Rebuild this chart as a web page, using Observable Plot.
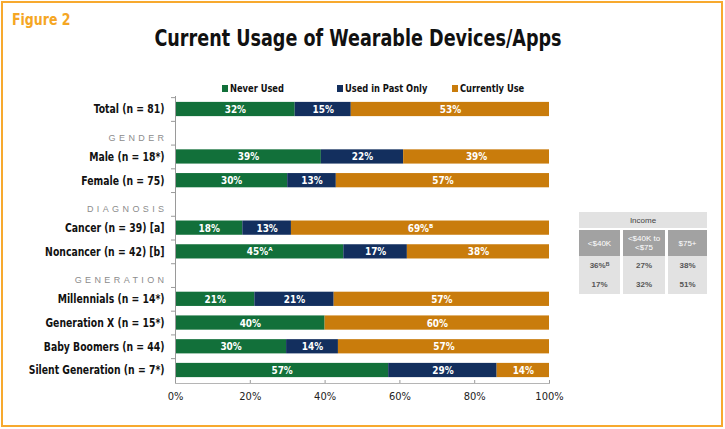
<!DOCTYPE html>
<html>
<head>
<meta charset="utf-8">
<script src="https://cdn.jsdelivr.net/npm/d3@7"></script>
<script src="https://cdn.jsdelivr.net/npm/@observablehq/plot@0.6"></script>
<style>
  html, body { margin: 0; padding: 0; background: #fff; }
  #root { position: relative; width: 725px; height: 429px; overflow: hidden; font-family: 'DejaVu Sans Condensed', 'Liberation Sans', sans-serif; }
  .abs { position: absolute; white-space: nowrap; }
  #chart { position: absolute; left: 0; top: 0; }
  g[fill="#8c8c8c"] text { letter-spacing: 3.4px; }
  .cell { position: absolute; display: flex; align-items: center; justify-content: center; text-align: center; font-family: 'Liberation Sans', sans-serif; font-size: 8px; line-height: 9px; }
</style>
</head>
<body>
<div id="root"></div>
<script>
// ---- data ----
const categories = [
  "Total (n = 81)",
  "Male (n = 18*)",
  "Female (n = 75)",
  "Cancer (n = 39) [a]",
  "Noncancer (n = 42) [b]",
  "Millennials (n = 14*)",
  "Generation X (n = 15*)",
  "Baby Boomers (n = 44)",
  "Silent Generation (n = 7*)"
];
const headers = ["GENDER", "DIAGNOSIS", "GENERATION"];
const rowOrder = [
  "Total (n = 81)", "GENDER", "Male (n = 18*)", "Female (n = 75)",
  "DIAGNOSIS", "Cancer (n = 39) [a]", "Noncancer (n = 42) [b]",
  "GENERATION", "Millennials (n = 14*)", "Generation X (n = 15*)",
  "Baby Boomers (n = 44)", "Silent Generation (n = 7*)"
];
const seriesNames = ["Never Used", "Used in Past Only", "Currently Use"];
const neverUsed    = [32, 39, 30, 18, 45, 21, 40, 30, 57];
const pastOnly     = [15, 22, 13, 13, 17, 21,  0, 14, 29];
const currentlyUse = [53, 39, 57, 69, 38, 57, 60, 57, 14];
const neverNotes   = ["", "", "", "", "ᴬ", "", "", "", ""];
const pastNotes    = ["", "", "", "", "", "", "", "", ""];
const currentNotes = ["", "", "", "ᴮ", "", "", "", "", ""];
const xTicks = [0, 0.2, 0.4, 0.6, 0.8, 1];

const incomeColumns = ["<$40K", "<$40K to\n<$75", "$75+"];
const incomeRow1 = ["36%ᴮ", "27%", "38%"];
const incomeRow2 = ["17%", "32%", "51%"];

const colors = ["#12703a", "#132f5e", "#c97c0c"];

// ---- build table ----
const seriesValues = [neverUsed, pastOnly, currentlyUse];
const seriesNotes = [neverNotes, pastNotes, currentNotes];
const data = [];
categories.forEach((c, i) => {
  seriesNames.forEach((s, j) => {
    data.push({category: c, series: s, value: seriesValues[j][i], note: seriesNotes[j][i]});
  });
});

const root = document.getElementById("root");
const FONT = "'DejaVu Sans Condensed', 'Liberation Sans', sans-serif";

function addText(txt, x, y, opts = {}) {
  const d = document.createElement("div");
  d.className = "abs";
  d.textContent = txt;
  const fs = opts.fontSize || 12;
  const sx = opts.scaleX || 1;
  d.style.fontSize = fs + "px";
  d.style.lineHeight = fs + "px";
  d.style.top = (y - fs / 2) + "px";
  d.style.fontWeight = opts.fontWeight || "bold";
  d.style.color = opts.color || "#111";
  d.style.left = x + "px";
  if (opts.center) { d.style.transformOrigin = "0 50%"; d.style.transform = `scaleX(${sx}) translateX(-50%)`; }
  else { d.style.transformOrigin = "0 50%"; d.style.transform = `scaleX(${sx})`; }
  root.appendChild(d);
  return d;
}

// border
const border = document.createElement("div");
border.className = "abs";
Object.assign(border.style, {left: "1px", top: "1px", width: "722px", height: "426px", boxSizing: "border-box", border: "2px solid #f7a92e"});
root.appendChild(border);

// chart
const plotTop = 96, plotBottom = 383;
const firstRow = 109, lastRow = 370;
const step = (lastRow - firstRow) / (rowOrder.length - 1);
const pad = 0.4;
const yRange = [firstRow - (pad + (1 - pad) / 2) * step, lastRow + (pad + (1 - pad) / 2) * step];
const chart = Plot.plot({
  width: 725,
  height: 429,
  marginTop: plotTop,
  marginBottom: 429 - plotBottom,
  marginLeft: 175,
  marginRight: 176,
  style: {fontFamily: FONT, background: "transparent", color: "#111", overflow: "visible"},
  x: {domain: [0, 1]},
  y: {domain: rowOrder, padding: pad, range: yRange, round: false},
  color: {domain: seriesNames, range: colors},
  marks: [
    Plot.barX(data, Plot.stackX({x: "value", y: "category", fill: "series", offset: "normalize"})),
    Plot.text(data.filter(d => d.value > 0), Plot.stackX({
      x: "value", y: "category", z: "series", offset: "normalize",
      text: d => d.value + "%" + d.note,
      fill: "white", fontWeight: "bold", fontSize: 11
    })),
    Plot.ruleX([0], {stroke: "#9a9a9a"}),
    Plot.frame({anchor: "bottom", stroke: "#b5b5b5"}),
    Plot.axisY({tickSize: 0, tickPadding: 11, tickFormat: d => headers.includes(d) ? "" : d, fontSize: 12, fontWeight: "bold", label: null}),
    Plot.axisY({tickSize: 4, tickFormat: () => "", dy: -step / 2, stroke: "#9a9a9a", label: null}),
    Plot.text(headers, {y: d => d, frameAnchor: "left", dx: -8, dy: 5, textAnchor: "end", fill: "#8c8c8c", fontSize: 9, fontFamily: "'Liberation Sans', sans-serif"}),
    Plot.axisX({ticks: xTicks, tickSize: 3, dy: -3, tickFormat: () => "", stroke: "#9a9a9a", label: null}),
    Plot.axisX({ticks: xTicks, tickSize: 0, tickPadding: 9, tickFormat: d => Math.round(d * 100) + "%", fontSize: 11, fill: "#222", label: null})
  ]
});
chart.id = "chart";
root.appendChild(chart);

// condense SVG text widths (no narrow font installed)
function condense(selector, factor) {
  chart.querySelectorAll(selector).forEach(t => {
    const w = t.getComputedTextLength();
    if (w > 0) {
      t.setAttribute("textLength", (w * factor).toFixed(2));
      t.setAttribute("lengthAdjust", "spacingAndGlyphs");
    }
  });
}
condense('g[aria-label="y-axis tick label"] text', 0.86);
condense('g[fill="white"] text', 0.9);

// header texts
addText("Figure 2", 12, 20, {fontSize: 15, color: "#f5a623", scaleX: 0.93});
addText("Current Usage of Wearable Devices/Apps", 358, 38, {fontSize: 23, center: true, scaleX: 0.85});

// legend
const legendPos = [222, 337, 452];
seriesNames.forEach((s, i) => {
  const sq = document.createElement("div");
  sq.className = "abs";
  Object.assign(sq.style, {left: legendPos[i] + "px", top: "85px", width: "6px", height: "7px", background: colors[i]});
  root.appendChild(sq);
  addText(s, legendPos[i] + 8, 88.5, {fontSize: 11, color: "#111", scaleX: 0.84});
});

// income table
function cell(txt, x0, x1, y0, y1, bg, color, weight) {
  const d = document.createElement("div");
  d.className = "cell";
  Object.assign(d.style, {left: x0 + "px", top: y0 + "px", width: (x1 - x0) + "px", height: (y1 - y0) + "px", background: bg, color: color, fontWeight: weight || "normal"});
  d.innerText = txt;
  root.appendChild(d);
}
const colX = [[579, 620], [623, 665], [668, 707]];
cell("Income", 579, 707, 212, 228, "#e2e2e2", "#444", "normal");
incomeColumns.forEach((c, i) => {
  cell(c, colX[i][0], colX[i][1], 230, 256, "#a2a2a2", "#fff", "normal");
  cell(incomeRow1[i], colX[i][0], colX[i][1], 256, 275, "#e2e2e2", "#555", "bold");
  cell(incomeRow2[i], colX[i][0], colX[i][1], 275, 294, "#e2e2e2", "#555", "bold");
});
</script>
</body>
</html>
